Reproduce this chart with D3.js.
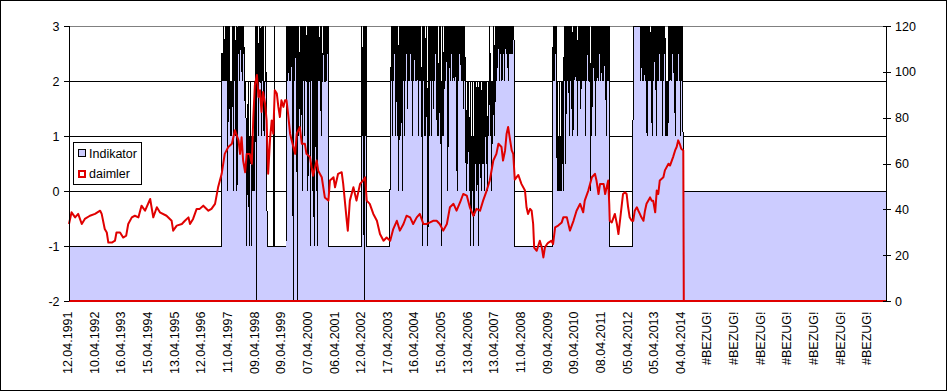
<!DOCTYPE html>
<html><head><meta charset="utf-8">
<script src="https://cdn.jsdelivr.net/npm/d3@7"></script>
<style>
html,body{margin:0;padding:0;background:#fff}
svg{display:block}
text{font-family:"Liberation Sans",Arial,sans-serif;font-size:12.5px;fill:#000}
</style>
</head><body><svg id="c" width="948" height="392"></svg>
<script>
// ---------- DATA ----------
const dateLabels = ["12.04.1991","10.04.1992","16.04.1993","15.04.1994","13.04.1995","12.04.1996",
  "11.04.1997","09.04.1998","09.04.1999","07.04.2000","06.04.2001","12.04.2002","17.04.2003",
  "16.04.2004","15.04.2005","13.04.2006","13.04.2007","11.04.2008","09.04.2009","09.04.2010",
  "08.04.2011","05.04.2012","05.04.2013","04.04.2014",
  "#BEZUG!","#BEZUG!","#BEZUG!","#BEZUG!","#BEZUG!","#BEZUG!","#BEZUG!"];
const leftTicks = [-2,-1,0,1,2,3];
const rightTicks = [0,20,40,60,80,100,120];
const totalWeeks = 1600;

// Indikator: flat runs [fromWeek, toWeek, value] and weekly values in active phases
const flatRuns = [[0,1202,-1],[1203,1600,0]];
const spikes = [[402,3]];
const active1997Start = 299;
const active1997 = [2.5,2,2.5,2,3,2,2.5,3,
  2,3,2,3,0,3,2,3,1.5,2,1,2,1,3,2.5,0,3,2,3,1,2,3,0,2,
  3,2.5,3,2,3,3,2.5,3,2,3,
  2.5,3,2.5,2,1.5,
  2,1,-1,0.5,1,2,0.5,-1,1,0.5,2,-1,1,0.5,0,1,
  0,2,0,3,2,
  -2,
  3,2,3,1,2,2,3,2.5,2,1,3,2,3,2,1,2,2,3,2,2];
const active1999Start = 426;
const active1999 = [3,2,3,2.5,3,2,3,2,3,2.5,3,2,3,-2,3,2,3,2.5,3,2,3,-2,3,1,3,2,1.5,3,1,2,
  3,0,3,2,3,1,3,2,3,2,2,3,0,3,2,2,3,-1,3,2,3,0,3,2,-1,3,2,3,0,3,-1,3,2,3,2,2.5,3,2,1,3,
  2,2,3,2.5,3,2,2,3,2,3,2.5,3,3];
const active2002Start = 573;
const active2002 = [3,2,1,3,2.5,-2,3,1,3,3];
const active2003Start = 629;
const active2003 = [
  0.5,1,3,2,3,1,3,2,3,2.5,
  3,1,3,2,1,3,2,0,3,2,
  3,1,2,3,0,3,2,3,1,3,
  2,3,2.5,3,1.5,3,2,3,2,3,
  2.5,3,2,3,1,3,2,3,3,
  2,3,2,3,2.5,3,1,3,2,3,
  2,3,1,2,-1,3,2,3,1,3,
  2,1,3,2,1,-1,3,2,1,3,
  2,3,1,3,2,3,1.5,3,2,
  3,2.5,3,2,1,3,2,1,3,2,
  1,3,-1,2,1,3,2,1,3,2,
  3,2,3,2.5,3,0,3,2,3,3,
  2,3,3,2.5,3,2,3,3,2,3,
  3,2,3,0,3,3,2,3,2.5,3,
  3,2,3,2,3,1.5,3,2,3,
  2,1,0,1,2,0.5,1,2,0,1,
  2,-1,1,0.5,2,0,1,-1,2,1,
  0.5,2,1,0,2,1,-1,2,0.5,1,
  2,0,1,2,0.5,1,2,0,2,1,
  2,0.5,2,1,0,2,1,2,3,2,
  1,2,0,2,1,2,3,2,1,
  3,2.5,3,2,3,2.5,3,3,2,3,
  2.5,3,3,2,3,2.5,3,3,2,3,
  3,2.5,3,2.5,3,2,3,2.5,3,3,
  2.5,3,2.5,3,2.5,3,3,2.5];
const active2009Start = 948;
const active2009 = [
  3,2,3,2,3,2.5,3,2,
  0,2,0,1,0,2,0,1,0,2,0.5,2,0,
  2,3,2,3,0.5,3,2,3,2,3,2,1,3,
  2,3,1.5,3,2,1,3,2,3,2.5,3,2,3,
  2,1,3,2,3,2,3,1.5,2,3,2,3,
  2,3,3,2,3,1,3,2,3,3,2,3,2,3,
  0,2,3,1,3,2,3,3,2,3,1,3,3,2,
  3,3,2,3,2.5,3,2,3,3,2,3,2,3,
  2.5,3,2,3,1,3,2,3,3,2,3];
const active2012Start = 1105;
const active2012 = [
  3,3,3,3,3,3,3,3,3,3,3,3,3,3,3,
  2,3,2.5,3,2,3,2,3,2.5,3,2,3,1,3,2,3,
  2,3,2,2.5,3,2,1,3,2,3,2.5,3,2,3,1,
  3,2,3,2,3,2.5,3,2,3,2,3,1,3,2,3,
  2.5,3,2,1,2,1,2,1,3,2,3,2,3,3,2,
  3,2.5,3,3,2,3,1,3,2,3,3,2,3,2.5,3,
  2,3,1,3,2,3,2];

// daimler: [week, price]
const daimler = [[0,33.6],[5,38.7],[12,36.5],[18,38],[25,33.6],[31,35.8],[41,37.2],[51,38],[61,39.4],[64,38],
  [70,31.4],[74,29.9],[77,25.5],[84,25.5],[90,26.3],[93,29.9],[100,29.9],[106,27.7],[112,28.5],[116,33.6],
  [123,36.5],[129,37.2],[136,36.5],[142,41.6],[149,39.4],[159,44.5],[165,36.5],[172,40.9],[178,38.7],[191,37.2],
  [201,35],[204,30.7],[211,32.9],[221,33.6],[227,35],[234,36.5],[237,33.6],[243,35.8],[250,40.2],[256,40.2],
  [263,41.6],[273,39.4],[279,40.2],[286,42.4],[292,49.6],[299,55.5],[305,64.2],[312,67.2],[319,68.6],[325,74.5],
  [332,70.1],[335,64.2],[338,71.5],[341,61.3],[345,56.2],[348,64.2],[354,64.2],[358,59.9],[361,80.3],[364,94.2],
  [368,98.6],[371,89],[374,92],[377,82.5],[380,91.2],[384,86.1],[387,78.8],[390,55.5],[394,71.5],[397,78.8],
  [400,73],[403,92],[407,90.5],[410,84.7],[413,80.3],[416,87.6],[420,84.7],[423,87.6],[426,87.6],[429,81.8],
  [433,73],[436,70.1],[443,64.2],[446,73],[452,75.9],[456,68.6],[462,68.6],[465,64.2],[472,62.8],[475,58.4],
  [478,54.7],[485,61.3],[488,56.9],[495,54],[498,49.6],[501,45.2],[508,43.8],[511,52.6],[518,54],[521,49.6],
  [527,55.5],[534,56.2],[537,51.1],[544,35],[546,30.7],[550,43.8],[557,49.6],[563,43.8],[570,51.1],[576,52.6],
  [580,54],[583,43.8],[589,42.4],[596,38],[603,35],[609,29.2],[616,26.3],[622,27.7],[629,26.3],[635,31.4],
  [642,35],[648,30.7],[655,33.6],[661,37.2],[668,36.5],[674,33.6],[681,36.5],[687,38],[694,33.6],[700,33.6],
  [707,34.3],[713,35],[720,35],[726,33.6],[733,30.7],[740,33.6],[746,40.9],[753,42.4],[759,39.4],[766,43.1],
  [772,46.7],[779,46],[785,40.9],[792,37.2],[798,40.2],[805,39.4],[811,43.8],[818,48.2],[824,52.6],[831,61.3],
  [837,64.2],[841,68.6],[847,67.2],[850,61.3],[854,65.7],[857,73],[860,75.9],[864,70],[867,65.7],[870,64.2],
  [873,53],[880,55],[886,51.1],[893,48.2],[896,40.9],[899,38],[903,40.2],[906,39.4],[909,33.6],[911,23.3],
  [916,21.9],[922,26.3],[926,23.3],[929,19],[932,23.3],[936,24.8],[939,25.5],[945,26.3],[948,24.8],[952,32.1],
  [958,32.9],[965,34.3],[968,36.5],[975,36.5],[981,30.7],[988,35],[994,39.4],[1001,42.4],[1007,38.7],[1010,43.8],
  [1017,48.2],[1024,54],[1030,55.5],[1033,52.6],[1037,46.7],[1040,51.1],[1047,51.1],[1050,46.7],[1056,52.6],[1058,42.4],
  [1059,35],[1063,34.3],[1069,38],[1073,33.6],[1076,29.2],[1079,35],[1082,40.9],[1085,46.7],[1089,47.4],[1092,46.7],
  [1095,40.9],[1098,36.5],[1102,35],[1105,35],[1108,39.4],[1112,40.9],[1115,39.4],[1118,38],[1121,36.5],[1125,35],
  [1128,39.4],[1131,42.4],[1138,45.2],[1141,43.8],[1144,43.8],[1148,38.7],[1151,48.2],[1154,46.7],[1157,52.6],[1164,54],
  [1167,57],[1174,59.9],[1177,59.1],[1183,62.8],[1187,65.7],[1190,67.2],[1193,70.1],[1196,68.6],[1199,66.4],[1203,65.7],
  [1204,0],[1600,0]];

// ---------- BUILD ----------
const weekly = new Array(totalWeeks + 1).fill(-1);
flatRuns.forEach(([a,b,v]) => { for (let w = a; w <= b; w++) weekly[w] = v; });
[[active1997Start,active1997],[active1999Start,active1999],[active2002Start,active2002],
 [active2003Start,active2003],[active2009Start,active2009],[active2012Start,active2012]]
 .forEach(([s,arr]) => arr.forEach((v,i) => { weekly[s+i] = v; }));
spikes.forEach(([w,v]) => { weekly[w] = v; });
const indikator = weekly.map((v,w) => ({w, v}));

// ---------- DRAW ----------
const svg = d3.select("#c");
const L = 69, R = 886, T = 26, B = 301;
const x = d3.scaleLinear().domain([0, totalWeeks]).range([L, R]);
const y = d3.scaleLinear().domain([-2, 3]).range([B, T]);
const y2 = d3.scaleLinear().domain([0, 120]).range([B, T]);
const xl = d3.scalePoint().domain(d3.range(dateLabels.length)).range([67.7, 866.7]);

// outer border
svg.append("rect").attr("x",0.5).attr("y",0.5).attr("width",946).attr("height",390)
  .attr("fill","#fff").attr("stroke","#000");

// gridlines
svg.append("g").selectAll("line").data([-1,0,1,2]).join("line")
  .attr("x1",L).attr("x2",R).attr("y1",d=>Math.round(y(d))+0.5).attr("y2",d=>Math.round(y(d))+0.5)
  .attr("stroke","#000").attr("shape-rendering","crispEdges");
svg.append("line").attr("x1",L).attr("x2",R).attr("y1",T+0.5).attr("y2",T+0.5)
  .attr("stroke","#808080").attr("shape-rendering","crispEdges");

// indikator area
svg.append("path").datum(indikator)
  .attr("d", d3.area().x(d=>x(d.w)).y0(y(-2)).y1(d=>y(d.v)))
  .attr("fill","#CCCCFF").attr("stroke","none");
svg.append("path").datum(indikator)
  .attr("d", d3.line().x(d=>x(d.w)).y(d=>y(d.v)))
  .attr("fill","none").attr("stroke","#000").attr("stroke-width",1).attr("shape-rendering","crispEdges");

// daimler line
svg.append("path").datum(daimler)
  .attr("d", d3.line().x(d=>x(d[0])).y(d=>y2(d[1])))
  .attr("fill","none").attr("stroke","#e00000").attr("stroke-width",2).attr("stroke-linejoin","round");

// bottom axis line (red)
svg.append("line").attr("x1",L).attr("x2",R).attr("y1",B).attr("y2",B)
  .attr("stroke","#e00000").attr("stroke-width",2);

// left axis
const la = svg.append("g");
la.append("line").attr("x1",L+0.5).attr("x2",L+0.5).attr("y1",T).attr("y2",B)
  .attr("stroke","#000").attr("shape-rendering","crispEdges");
la.selectAll(".t").data(leftTicks).join("line")
  .attr("x1",L-5).attr("x2",L).attr("y1",d=>Math.round(y(d))+0.5).attr("y2",d=>Math.round(y(d))+0.5)
  .attr("stroke","#000").attr("shape-rendering","crispEdges");
la.selectAll("text").data(leftTicks).join("text")
  .attr("x",59.5).attr("y",d=>y(d)).attr("dy","0.36em").attr("text-anchor","end").text(d=>d);

// right axis
const ra = svg.append("g");
ra.append("line").attr("x1",R+0.5).attr("x2",R+0.5).attr("y1",T).attr("y2",B)
  .attr("stroke","#000").attr("shape-rendering","crispEdges");
ra.selectAll(".t").data(rightTicks).join("line")
  .attr("x1",R-3).attr("x2",R+5).attr("y1",d=>Math.round(y2(d))+0.5).attr("y2",d=>Math.round(y2(d))+0.5)
  .attr("stroke","#000").attr("shape-rendering","crispEdges");
ra.selectAll("text").data(rightTicks).join("text")
  .attr("x",895).attr("y",d=>y2(d)).attr("dy","0.36em").attr("text-anchor","start").text(d=>d);

// x labels
svg.append("g").selectAll("text").data(dateLabels).join("text")
  .attr("transform",(d,i)=>`translate(${xl(i)},311.5) rotate(-90)`)
  .attr("dy","0.36em").attr("text-anchor","end").text(d=>d);

// legend
const lg = svg.append("g");
lg.append("rect").attr("x",73.5).attr("y",142.5).attr("width",68).attr("height",42)
  .attr("fill","#fff").attr("stroke","#000");
lg.append("rect").attr("x",78.5).attr("y",149.5).attr("width",7).attr("height",7)
  .attr("fill","#CCCCFF").attr("stroke","#000");
lg.append("text").attr("x",89).attr("y",158.3).text("Indikator");
lg.append("rect").attr("x",79).attr("y",171).attr("width",6).attr("height",6)
  .attr("fill","#fff").attr("stroke","#e00000").attr("stroke-width",2);
lg.append("text").attr("x",89).attr("y",178.3).text("daimler");
</script>
</body></html>
